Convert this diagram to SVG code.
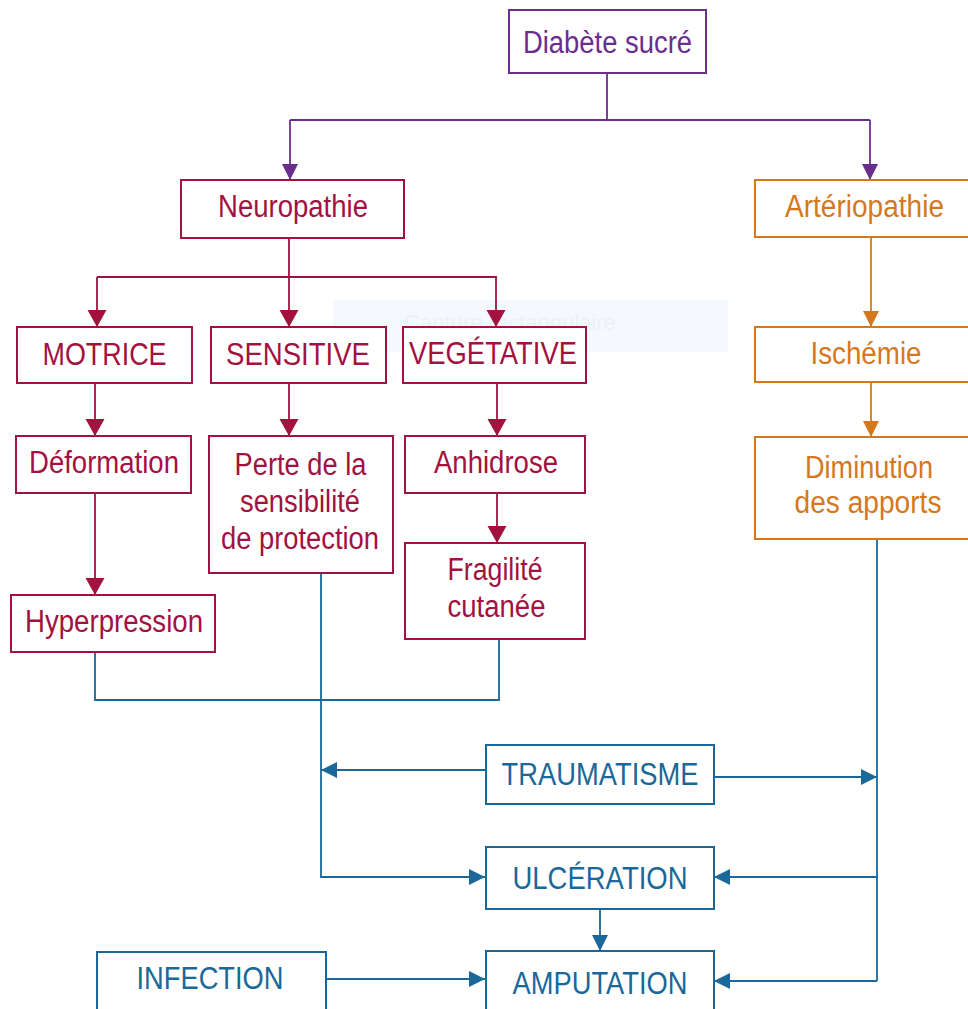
<svg xmlns="http://www.w3.org/2000/svg" width="968" height="1009" viewBox="0 0 968 1009">
<style>
text{font-family:"Liberation Sans",Arial,sans-serif;font-size:31px;text-anchor:middle}
rect.n{fill:#fff;stroke-width:2}
.pu{stroke:#6b2d8e}.cr{stroke:#a3113f}.or{stroke:#d4781e}.bl{stroke:#1a6899}
.tpu{fill:#6b2d8e}.tcr{fill:#a3113f}.tor{fill:#d4781e}.tbl{fill:#1a6899}
#connectors path{fill:none;stroke-width:1.8}
</style>
<defs>
<marker id="aPu" markerUnits="userSpaceOnUse" markerWidth="18" markerHeight="18" refX="16" refY="8" orient="auto"><path d="M0,0 L16,8 L0,16 z" fill="#6b2d8e"/></marker>
<marker id="aCr" markerUnits="userSpaceOnUse" markerWidth="20" markerHeight="20" refX="17" refY="9.5" orient="auto"><path d="M0,0 L17,9.5 L0,19 z" fill="#a3113f"/></marker>
<marker id="aOr" markerUnits="userSpaceOnUse" markerWidth="18" markerHeight="18" refX="16" refY="8" orient="auto"><path d="M0,0 L16,8 L0,16 z" fill="#d4781e"/></marker>
<marker id="aBl" markerUnits="userSpaceOnUse" markerWidth="18" markerHeight="18" refX="16" refY="8" orient="auto"><path d="M0,0 L16,8 L0,16 z" fill="#1a6899"/></marker>
</defs>
<rect width="968" height="1009" fill="#fff"/>
<g id="overlay">
<rect x="333" y="300" width="395" height="52" fill="#f5f8fc"/>
<text x="510" y="330" style="font-size:22px;fill:#edf1f7">Capture rectangulaire</text>
</g>
<g id="connectors">
<path class="pu" d="M607,73 V120 M290,120 H870" />
<path class="pu" d="M290,120 V180" marker-end="url(#aPu)"/>
<path class="pu" d="M870,120 V180" marker-end="url(#aPu)"/>
<path class="cr" d="M289,238 V277 M97,277 H497"/>
<path class="cr" d="M97,277 V327" marker-end="url(#aCr)"/>
<path class="cr" d="M289,277 V327" marker-end="url(#aCr)"/>
<path class="cr" d="M496,277 V327" marker-end="url(#aCr)"/>
<path class="cr" d="M95,383 V436" marker-end="url(#aCr)"/>
<path class="cr" d="M289,383 V436" marker-end="url(#aCr)"/>
<path class="cr" d="M497,383 V436" marker-end="url(#aCr)"/>
<path class="cr" d="M95,493 V595" marker-end="url(#aCr)"/>
<path class="cr" d="M497,493 V543" marker-end="url(#aCr)"/>
<path class="or" d="M871,237 V327" marker-end="url(#aOr)"/>
<path class="or" d="M871,382 V437" marker-end="url(#aOr)"/>
<path class="bl" d="M95,650 V700 H499 V637"/>
<path class="bl" d="M321,573 V877 H485" marker-end="url(#aBl)"/>
<path class="bl" d="M485,770 H321" marker-end="url(#aBl)"/>
<path class="bl" d="M713,777 H877" marker-end="url(#aBl)"/>
<path class="bl" d="M877,539 V981"/>
<path class="bl" d="M877,877 H714" marker-end="url(#aBl)"/>
<path class="bl" d="M877,981 H714" marker-end="url(#aBl)"/>
<path class="bl" d="M600,906 V951" marker-end="url(#aBl)"/>
<path class="bl" d="M323,979 H485" marker-end="url(#aBl)"/>
</g>
<g id="diabete"><rect class="n pu" x="509" y="10" width="197" height="63"/><text class="tpu" x="607.5" y="53" textLength="169" lengthAdjust="spacingAndGlyphs">Diabète sucré</text></g>
<g id="neuropathie"><rect class="n cr" x="181" y="180" width="223" height="58"/><text class="tcr" x="293" y="217" textLength="150" lengthAdjust="spacingAndGlyphs">Neuropathie</text></g>
<g id="arteriopathie"><rect class="n or" x="755" y="180" width="220" height="57"/><text class="tor" x="864.5" y="217" textLength="159" lengthAdjust="spacingAndGlyphs">Artériopathie</text></g>
<g id="motrice"><rect class="n cr" x="17" y="327" width="175" height="56"/><text class="tcr" x="104.5" y="365" textLength="124" lengthAdjust="spacingAndGlyphs">MOTRICE</text></g>
<g id="sensitive"><rect class="n cr" x="211" y="327" width="175" height="56"/><text class="tcr" x="298" y="365" textLength="144" lengthAdjust="spacingAndGlyphs">SENSITIVE</text></g>
<g id="vegetative"><rect class="n cr" x="403" y="327" width="183" height="56"/><text class="tcr" x="493" y="364" textLength="168" lengthAdjust="spacingAndGlyphs">VEGÉTATIVE</text></g>
<g id="ischemie"><rect class="n or" x="755" y="327" width="220" height="55"/><text class="tor" x="866" y="364" textLength="111" lengthAdjust="spacingAndGlyphs">Ischémie</text></g>
<g id="deformation"><rect class="n cr" x="16" y="436" width="175" height="57"/><text class="tcr" x="104" y="473" textLength="150" lengthAdjust="spacingAndGlyphs">Déformation</text></g>
<g id="perte"><rect class="n cr" x="209" y="436" width="184" height="137"/>
<text class="tcr" x="300.5" y="475" textLength="132" lengthAdjust="spacingAndGlyphs">Perte de la</text>
<text class="tcr" x="300" y="512" textLength="120" lengthAdjust="spacingAndGlyphs">sensibilité</text>
<text class="tcr" x="300" y="549" textLength="158" lengthAdjust="spacingAndGlyphs">de protection</text></g>
<g id="anhidrose"><rect class="n cr" x="405" y="436" width="180" height="57"/><text class="tcr" x="496" y="473" textLength="124" lengthAdjust="spacingAndGlyphs">Anhidrose</text></g>
<g id="diminution"><rect class="n or" x="755" y="437" width="220" height="102"/>
<text class="tor" x="869" y="478" textLength="128" lengthAdjust="spacingAndGlyphs">Diminution</text>
<text class="tor" x="868" y="513" textLength="147" lengthAdjust="spacingAndGlyphs">des apports</text></g>
<g id="fragilite"><rect class="n cr" x="405" y="543" width="180" height="96"/>
<text class="tcr" x="495" y="580" textLength="95" lengthAdjust="spacingAndGlyphs">Fragilité</text>
<text class="tcr" x="496.5" y="617" textLength="98" lengthAdjust="spacingAndGlyphs">cutanée</text></g>
<g id="hyperpression"><rect class="n cr" x="11" y="595" width="204" height="57"/><text class="tcr" x="114" y="632" textLength="178" lengthAdjust="spacingAndGlyphs">Hyperpression</text></g>
<g id="traumatisme"><rect class="n bl" x="486" y="745" width="228" height="59"/><text class="tbl" x="600" y="785" textLength="197" lengthAdjust="spacingAndGlyphs">TRAUMATISME</text></g>
<g id="ulceration"><rect class="n bl" x="486" y="847" width="228" height="62"/><text class="tbl" x="600" y="889" textLength="175" lengthAdjust="spacingAndGlyphs">ULCÉRATION</text></g>
<g id="amputation"><rect class="n bl" x="486" y="951" width="228" height="70"/><text class="tbl" x="600" y="994" textLength="175" lengthAdjust="spacingAndGlyphs">AMPUTATION</text></g>
<g id="infection"><rect class="n bl" x="97" y="952" width="229" height="70"/><text class="tbl" x="210" y="989" textLength="147" lengthAdjust="spacingAndGlyphs">INFECTION</text></g>
</svg>
